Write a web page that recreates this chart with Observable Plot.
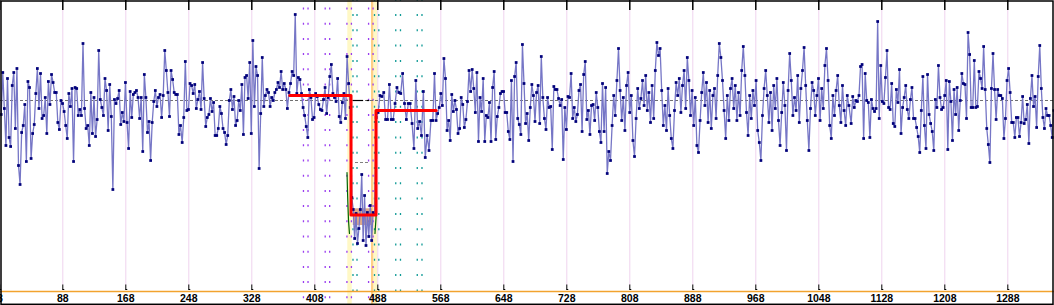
<!DOCTYPE html>
<html><head><meta charset="utf-8">
<script src="https://cdn.jsdelivr.net/npm/d3@7"></script>
<script src="https://cdn.jsdelivr.net/npm/@observablehq/plot@0.6"></script>
<style>html,body{margin:0;padding:0;background:#fff;overflow:hidden}</style>
</head><body><div id="chart"></div>
<script>
// ---- signal values (baseline = 0), grouped by stretch ----
const seg1 = [-14,28,-8,-45,22,-37,-46,15,28,-28,32,-65,-84,-32,-25,-4,-61,19,13,-58,-33,-24,7,32,-8,27,-18,-15,3,-33,19,-4,26,18,8,8,-22,-29,0,-3,-11,-25,-38,7,-6,12,-61,13,12,-15,-9,-15,57,-8,-28,-25,-45,8,-33,3,-36,-19,50,1,-7,-15,22,10,-30,16,-16,-89,1,-3,2,10,-24,-12,-21,18,-22,-48,9,-17,6,8,10,3,-18,3,-51,26,3,-32,-21,-60,-22,-1,10,-6,3,6,-17,5,50,30,8,-16,30,21,8,6,6,-34,-25];
const seg2 = [-42,-17,39,-10,-9,17,15,7,16,-8,1,9,-9,38,2,-26,-17,-14,2,-11,-2,-35,-35,-28,-6,-13,-28,-32,-44,-35,0,11,-9,4,-25,-20,0,-10,16,-34,23,25,2,38,-33,60,-6,34,25,-68,-13,43,-6,5,11,8,-6,3,0,8,11,18,13,29,11,17,11,-8,8,17,29,25,86,7,23,21,7,-7,-15,-26,-37,11,3,-19,-17,7,4,-4,-9,-10,1,13,-13,3,24,36,7,3,-1,22,-16,-22,-2,7,-18,44,17,-7];
const seg3 = [-97,-109,-138,-113,-143,-128,-109,-74,-140,-95,-145,-112,-136,-105,-140,-112,-114];
const seg4 = [-17,-12,5,4,8,-19,-19,16,-19,-19,-3,13,8,7,27,-3,-19,-3,-3,-23,-48,20,-28,-21,-35,9,-57,-35,-50,-20,-20];
const seg5 = [27,-20,-13,-7,7,-5,42,22,-30,-20,-40,6,-11,0,-9,-33,-28,3,-4,-27,-19,-1,30,9,31,12,-12,28,-41,3,-11,22,-41,-15,-17,-2,-41,13,29,-39,-16,-7,7,9,9,-12,-12,-31,-39,20,-61,24,38,-18,-24,-34,56,17,-23,-13,-40,-7,16,5,-21,8,15,-23,44,3,-18,-29,3,-7,-6,-49,14,11,11,2,-5,1,-59,-7,-29,4,3,27,-18,-7,-21,-14,10,16,-31,26,39,-19,-10,-34,-5,-4,-20,8,-7,-31,-42,17,-31,13,-73,-51];
const seg6 = [-60,-25,5,-15,20,52,10,-20,3,-30,15,28,-12,5,-40,-56,-18,12,-8,2,20,-5,25,-10,8,-22,15,-18,30,58,45,52,10,-25,-5,-30,12,-15,-38,-48,-10,18,5,22,-12,15,30,-8,43,20,-15,10,-25,3,-45,-52,-20,8,28,-5,18,-22,10,-28,5,12,-18,25,57,43,20,-10,-38,5,-20,12,22,-8,15,-20,8,-15,30,54,25,-12,-35,5,-18,10,-5,20,-30,-42,-60,-15,12,30,5,-22,8,-30,15,-8,22,-20,-45,-12,18,-5,-50,10,47,20,-15,3,-10,25,-22,12,30,53,15,-20,-50,-8,18,10,-15,5,22,-20,12,-8,35,52,20,-25,-38,5,-15,10,25,-5,-22,15,-10,-25,5,-5];
const seg7 = [-23,4,-7,0,-1,5,34,36,-38,27,0,-2,-37,1,-8,-11,-8,79,-18,35,-1,-3,23,50,-7,-9,17,-23,-26,11,-2,31,-33,-7,3,15,-9,-18,1,13,-18,-18,-27,-36,-52,-10,24,-25,-48,26,-14,-23,-31,-50,1,-7,35,3,-9,-7,5,20,-49,19,-1,-40,11,-14,13,-30,0,27,17,16,-18,68,46,-7,-7,40,-7,-6,29,22,12,54,11,-28,-44,-62,12,47,11,-19,11,5,5,2,-38,-18,20,32,8,-22,-22,-37,-17,-17,-36,-22,4,-23,-19,-4,-43,2,25,-6,4,-27,24,55,12,-17,-28,-8,-15,-15,-25,-37,-10];
const segValues = [seg1, seg2, seg3, seg4, seg5, seg6, seg7];
const segStart = [9.78, 239.6, 455.0, 485.97, 560.0, 783.5, 1089.1];
const segEnd   = [237.46, 452.95, 483.81, 557.84, 781.33, 1086.2, 1346.4];

// ---- axis ticks ----
const tickValues = [8, 88, 168, 248, 328, 408, 488, 568, 648, 728, 808, 888, 968, 1048, 1128, 1208, 1288];

// ---- overlays ----
const stepX = [376.2, 454, 454, 485.7, 485.7, 562.2];
const stepY = [5, 5, -114.5, -114.5, -10, -10];
const yellowBandX1 = [449.9, 482.9];
const yellowBandX2 = [455.5, 488.0];
const orangeBandX1 = [480.0];
const orangeBandX2 = [482.9];
const purpleCols = [393.6, 399.4, 421.2, 426.9, 448.8, 454.5, 476.3, 482.0];
const tealCols = [456.5, 461.6, 483.8, 489.3, 510.8, 516.8, 538.1, 544.1];
const blackSegX1 = [457.1, 474.5];
const blackSegX2 = [470.0, 477.8];
const lowRefX = [459.7, 478.7];
const lowRefY = -62;
const boxX = [456.8, 480.9];
const boxY = [-108.3, -125];
const greenLeftX = [448.9, 449.5, 450.1, 450.8, 452.0];
const greenLeftY = [-72, -90, -105, -120, -133];
const greenRightX = [486.3, 485.7, 484.4];
const greenRightY = [-103, -118, -133];

// ---- build tables ----
const signal = [];
segValues.forEach((vals, s) => {
  const n = vals.length;
  vals.forEach((v, i) => signal.push({x: segStart[s] + i * (segEnd[s] - segStart[s]) / (n - 1), y: v}));
});
const steps = stepX.map((x, i) => ({x, y: stepY[i]}));
const yBands = yellowBandX1.map((x1, i) => ({x1, x2: yellowBandX2[i]}));
const oBands = orangeBandX1.map((x1, i) => ({x1, x2: orangeBandX2[i]}));
const blackSegs = blackSegX1.map((x1, i) => ({x1, x2: blackSegX2[i]}));
const gL = greenLeftX.map((x, i) => ({x, y: greenLeftY[i]}));
const gR = greenRightX.map((x, i) => ({x, y: greenRightY[i]}));

const chart = Plot.plot({
  width: 1054, height: 305,
  marginTop: 0, marginRight: 0, marginBottom: 0, marginLeft: 0,
  x: {domain: [8.89, 1347.3], range: [0, 1054], axis: null},
  y: {domain: [-191, 100], range: [291, 0], axis: null},
  style: {background: "white", overflow: "visible"},
  marks: [
    Plot.rect(yBands, {x1: "x1", x2: "x2", y1: -205, y2: 100, fill: "#fff8c6"}),
    Plot.rect(oBands, {x1: "x1", x2: "x2", y1: -205, y2: 100, fill: "#ffcf86"}),
    Plot.ruleX(tickValues, {y1: 90, y2: -185, stroke: "#efd3ee", strokeWidth: 1}),
    Plot.ruleX(purpleCols, {y1: 100, y2: -205, stroke: "#9a3cf0", strokeWidth: 1.3, strokeDasharray: "2,13.2", strokeDashoffset: 7.7}),
    Plot.ruleX(tealCols, {y1: 100, y2: -205, stroke: "#0f9a96", strokeWidth: 1.3, strokeDasharray: "2,13.3", strokeDashoffset: 1.3}),
    Plot.ruleY([0], {stroke: "#707070", strokeWidth: 1, strokeDasharray: "3,2"}),
    Plot.ruleY(blackSegs, {x1: "x1", x2: "x2", y: 0, stroke: "black", strokeWidth: 1.2}),
    Plot.ruleY([lowRefY], {x1: lowRefX[0], x2: lowRefX[1], stroke: "#808080", strokeDasharray: "3,2"}),
    Plot.rect([0], {x1: boxX[0], x2: boxX[1], y1: boxY[0], y2: boxY[1], fill: "#c8703c", fillOpacity: 0.6}),
    Plot.line(signal, {x: "x", y: "y", stroke: "#7676c6", strokeWidth: 1.3}),
    Plot.dot(signal, {x: "x", y: "y", symbol: "square", r: 1.55, fill: "#00007a"}),
    Plot.line(gL, {x: "x", y: "y", stroke: "#006400", strokeWidth: 1.2}),
    Plot.line(gR, {x: "x", y: "y", stroke: "#006400", strokeWidth: 1.2}),
    Plot.line(steps, {x: "x", y: "y", stroke: "#ff0000", strokeWidth: 3}),
    Plot.ruleX(tickValues, {y1: 100, y2: 90, stroke: "black", strokeWidth: 1.5}),
    Plot.ruleX(tickValues, {y1: -184.5, y2: -189.5, stroke: "black", strokeWidth: 1}),
    Plot.ruleY(tickValues, {x1: d => d, x2: d => d + 2.5, y: -189, stroke: "black", strokeWidth: 1}),
    Plot.ruleY([-191], {stroke: "#f2a32e", strokeWidth: 1.5}),
    Plot.text(tickValues, {x: d => d, y: -191, text: d => String(d), dy: 7.5, fontWeight: "bold", fontSize: 10.5, fontFamily: "Liberation Sans, Arial, sans-serif", fill: "black"}),
    Plot.frame({stroke: "black", strokeWidth: 1.5, insetTop: 0.5, insetLeft: 0.5, insetRight: 1.5, insetBottom: 1.2})
  ]
});
document.getElementById("chart").appendChild(chart);
</script>
</body></html>
